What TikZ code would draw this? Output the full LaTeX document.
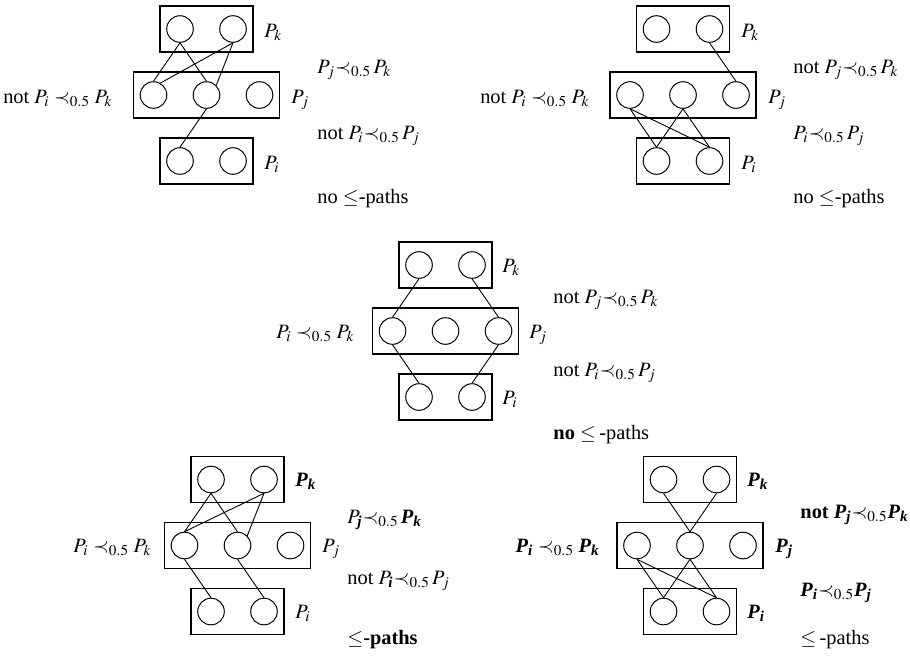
\documentclass[tikz,border=0pt]{standalone}
\usepackage{amsmath}
\usepackage{mathptmx}
\usepackage{fontspec}
\setmainfont{Liberation Serif}
\usetikzlibrary{positioning}

\newcommand{\bi}[1]{\text{\bfseries\itshape #1}}

\tikzset{
  layer/.style={draw, line width=0.8pt, minimum height=23pt, inner sep=0pt},
  elem/.style={draw, circle, line width=0.5pt, minimum size=13.3pt, inner sep=0pt},
  link/.style={line width=0.45pt},
  lab/.style={anchor=base west, inner sep=0pt, font=\fontsize{10.2}{12}\selectfont},
  labl/.style={anchor=base east, inner sep=0pt, font=\fontsize{10.2}{12}\selectfont},
}

\begin{document}
\begin{tikzpicture}[x=0.5pt, y=-0.5pt]
\useasboundingbox (0,0) rectangle (910,660);
%
    % the five three-layer groups
    \foreach \g/\cx/\cy in {a/206.5/95, b/683/95, c/445.5/331, d/237.5/545.5, e/690/545.5} {
      \node[layer, minimum width=46.5pt] (\g K) at (\cx, \cy-66) {};
      \node[layer, minimum width=73pt]   (\g J) at (\cx, \cy) {};
      \node[layer, minimum width=46.5pt] (\g I) at (\cx, \cy+66) {};
      \node[elem] (\g k1) at (\cx-26.5, \cy-66) {};
      \node[elem] (\g k2) at (\cx+26.5, \cy-66) {};
      \node[elem] (\g j1) at (\cx-53, \cy) {};
      \node[elem] (\g j2) at (\cx, \cy) {};
      \node[elem] (\g j3) at (\cx+53, \cy) {};
      \node[elem] (\g i1) at (\cx-26.5, \cy+66) {};
      \node[elem] (\g i2) at (\cx+26.5, \cy+66) {};
    }
%
    % top left
    \draw[link] (ak1.south) -- (aj1.north);
    \draw[link] (ak1.south) -- (aj2.north);
    \draw[link] (ak2.south) -- (aj1.60);
    \draw[link] (ak2.south) -- (aj2.north east);
    \draw[link] (aj2.south) -- (ai1.north);
    \node[lab] (aPk) at (264, 37) {$P_k$};
    \node[lab] (aPj) at (291, 103) {$P_j$};
    \node[lab] (aPi) at (264, 169) {$P_i$};
    \node[lab] (aR1) at (317, 73) {$P_j{\prec_{0.5}}\,P_k$};
    \node[lab] (aR2) at (317, 139) {not $P_i{\prec_{0.5}}\,P_j$};
    \node[lab] (aR3) at (317, 203) {no $\leq$-paths};
    \node[labl] (aL) at (113, 103) {not $P_i\prec_{0.5}P_k$};
%
    % top right
    \draw[link] (bk2.south) -- (bj3.north);
    \draw[link] (bj1.south) -- (bi1.north);
    \draw[link] (bj1.south) -- (bi2.north);
    \draw[link] (bj2.south) -- (bi1.north);
    \draw[link] (bj2.south) -- (bi2.north);
    \node[lab] (bPk) at (741, 37) {$P_k$};
    \node[lab] (bPj) at (768, 103) {$P_j$};
    \node[lab] (bPi) at (741, 169) {$P_i$};
    \node[lab] (bR1) at (793, 73) {not $P_j{\prec_{0.5}}\,P_k$};
    \node[lab] (bR2) at (793, 139) {$P_i{\prec_{0.5}}\,P_j$};
    \node[lab] (bR3) at (793, 203) {no $\leq$-paths};
    \node[labl] (bL) at (590, 103) {not $P_i\prec_{0.5}P_k$};
%
    % middle
    \draw[link] (ck1.south) -- (cj1.north);
    \draw[link] (ck2.south) -- (cj3.north);
    \draw[link] (cj1.south) -- (ci1.north);
    \draw[link] (cj3.south) -- (ci2.north);
    \node[lab] (cPk) at (502, 272) {$P_k$};
    \node[lab] (cPj) at (529, 338) {$P_j$};
    \node[lab] (cPi) at (502, 404) {$P_i$};
    \node[lab] (cR1) at (553, 303) {not $P_j{\prec_{0.5}}\,P_k$};
    \node[lab] (cR2) at (553, 376) {not $P_i{\prec_{0.5}}\,P_j$};
    \node[lab] (cR3) at (553, 439) {\textbf{no} $\leq$\,-paths};
    \node[labl] (cL) at (355, 338) {$P_i\prec_{0.5}P_k$};
%
    % bottom left
    \draw[link] (dk1.south) -- (dj1.north);
    \draw[link] (dk1.south) -- (dj2.north);
    \draw[link] (dk2.south) -- (dj1.north);
    \draw[link] (dk2.south) -- (dj2.north east);
    \draw[link] (dj1.south) -- (di1.north);
    \draw[link] (dj2.south) -- (di2.north);
    \node[lab] (dPk) at (295, 486.5) {$\bi{P}_{\bi{k}}$};
    \node[lab] (dPj) at (322, 552.5) {$P_j$};
    \node[lab] (dPi) at (295, 618.5) {$P_i$};
    \node[lab] (dR1) at (347, 523) {$P_{\bi{j}}{\prec_{0.5}}\,\bi{P}_{\bi{k}}$};
    \node[lab] (dR2) at (347, 584) {not $P_{\bi{i}}{\prec_{0.5}}\,P_j$};
    \node[lab] (dR3) at (347, 644) {$\leq$\textbf{-paths}};
    \node[labl] (dL) at (152, 552.5) {$P_i\prec_{0.5}P_k$};
%
    % bottom right
    \draw[link] (ek1.south) -- (ej2.north);
    \draw[link] (ek2.south) -- (ej2.north);
    \draw[link] (ej1.south) -- (ei1.north);
    \draw[link] (ej1.south) -- (ei2.north);
    \draw[link] (ej2.south) -- (ei1.north);
    \draw[link] (ej2.south) -- (ei2.north);
    \node[lab] (ePk) at (747, 486.5) {$\bi{P}_{\bi{k}}$};
    \node[lab] (ePj) at (775, 552.5) {$\bi{P}_{\bi{j}}$};
    \node[lab] (ePi) at (747, 618.5) {$\bi{P}_{\bi{i}}$};
    \node[lab] (eR1) at (800, 518) {\textbf{not} $\bi{P}_{\bi{j}}{\prec_{0.5}}\bi{P}_{\bi{k}}$};
    \node[lab] (eR2) at (800, 596) {$\bi{P}_{\bi{i}}{\prec_{0.5}}\bi{P}_{\bi{j}}$};
    \node[lab] (eR3) at (800, 644) {$\leq$\,-paths};
    \node[labl] (eL) at (600, 552.5) {$\bi{P}_{\bi{i}}\prec_{0.5}\bi{P}_{\bi{k}}$};
\end{tikzpicture}
\end{document}
